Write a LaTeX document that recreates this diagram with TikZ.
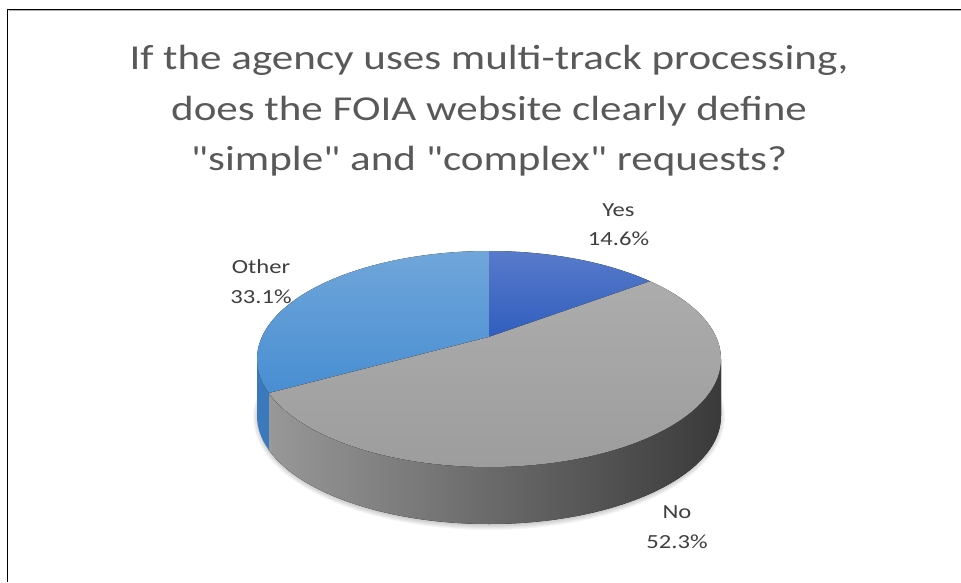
\documentclass[tikz,border=0pt]{standalone}
\usepackage{fontspec}
\setmainfont{Carlito}
\newfontfamily\widefont[FakeStretch=1.23]{Carlito}
\usepackage{tikz}
\usetikzlibrary{calc, positioning}
\definecolor{titlegray}{RGB}{89, 89, 89}
\definecolor{labelgray}{RGB}{64, 64, 64}
\definecolor{othertop}{RGB}{112, 166, 218}
\definecolor{otherbot}{RGB}{72, 142, 210}
\definecolor{otherside}{RGB}{58, 122, 188}
\definecolor{yestop}{RGB}{88, 122, 202}
\definecolor{yesbot}{RGB}{48, 94, 190}
\definecolor{notop}{RGB}{172, 172, 172}
\definecolor{nobot}{RGB}{156, 156, 156}
\definecolor{nosideleft}{RGB}{152, 152, 152}
\definecolor{nosideright}{RGB}{58, 58, 58}

\begin{document}
\begin{tikzpicture}[x=1pt, y=1pt,
    pielabel/.style={font=\widefont\fontsize{20}{29.5}\selectfont, text=labelgray, align=center, inner sep=0pt},
    rim/.style={x radius=232pt, y radius=108pt}]
  \useasboundingbox (0,0) rectangle (961,582);
  \fill[white] (0,0) rectangle (961,582);

  % Frame
  \draw[black, line width=1.5pt] (7.5,0) -- (7.5,572.5) -- (961,572.5);
  \draw[gray!60, line width=1pt] (8.5,571) -- (961,571);

  % Title
  \node[font=\widefont\fontsize{35}{50.5}\selectfont, text=titlegray, align=center, inner sep=0pt, anchor=base] (title) at (489,411)
    {If the agency uses multi-track processing,\\does the FOIA website clearly define\\\symbol{34}simple\symbol{34} and \symbol{34}complex\symbol{34} requests?};

  % Pie
  \coordinate (c) at (489,223);
  \coordinate (apex) at (489,245);
  \foreach \r in {1,...,6}
    \fill[black, opacity=0.035] ($(c)+(0,-58)$) ellipse [x radius=230pt+\r pt, y radius=107pt+\r pt];
  \fill[left color=nosideleft, right color=nosideright]
    ($(c)+(198.4:232pt and 108pt)$) arc[rim, start angle=198.4, end angle=360] -- ++(0,-57)
    arc[rim, start angle=360, end angle=198.4] -- cycle;
  \fill[otherside]
    ($(c)+(180:232pt and 108pt)$) arc[rim, start angle=180, end angle=198.4] -- ++(0,-57)
    arc[rim, start angle=198.4, end angle=180] -- cycle;
  \fill[top color=othertop, bottom color=otherbot]
    (apex) -- ($(c)+(198.4:232pt and 108pt)$) arc[rim, start angle=198.4, end angle=90] -- cycle;
  \fill[top color=yestop, bottom color=yesbot]
    (apex) -- ($(c)+(90:232pt and 108pt)$) arc[rim, start angle=90, end angle=46] -- cycle;
  \fill[top color=notop, bottom color=nobot]
    (apex) -- ($(c)+(46:232pt and 108pt)$) arc[rim, start angle=46, end angle=-161.6] -- cycle;

  % Labels
  \node[pielabel, anchor=base] (yes) at (618.5,336) {Yes\\14.6\%};
  \node[pielabel, anchor=base] (other) at (261,279) {Other\\33.1\%};
  \node[pielabel, anchor=base] (no) at (677,34) {No\\52.3\%};
\end{tikzpicture}
\end{document}
